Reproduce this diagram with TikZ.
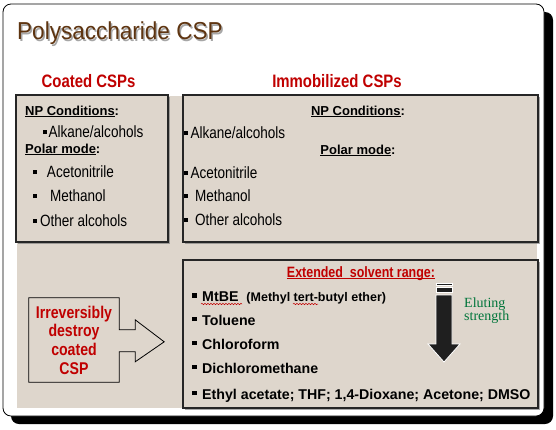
\documentclass[tikz,border=0pt]{standalone}
\usepackage{fontspec}
\setmainfont{Liberation Sans}
\newfontfamily\narrowfont[FakeStretch=0.83]{Liberation Sans}
\newfontfamily\titlefont[FakeStretch=0.92]{Liberation Sans}
\newfontfamily\elutfont{Liberation Serif}
\usetikzlibrary{positioning,shadows,decorations.pathmorphing}
\definecolor{tanbg}{HTML}{DED6CC}
\definecolor{csred}{HTML}{C00000}
\definecolor{titlebrown}{HTML}{5E3410}
\definecolor{elutgreen}{HTML}{00753A}
\newcommand\sqbullet{\raisebox{3pt}{\rule{3.8pt}{3.8pt}}}
\newcommand\xbullet{\raisebox{4pt}{\rule{4.5pt}{4.5pt}}}

\begin{document}
\begin{tikzpicture}[
  x=1pt, y=-1pt,
  panel/.style  = {draw=black!85, fill=tanbg, line width=1.6pt,
                   drop shadow={shadow xshift=1.6pt, shadow yshift=-1.6pt,
                                fill=black!55, opacity=.6}},
  colhead/.style= {anchor=base, inner sep=0, text=csred,
                   font=\narrowfont\bfseries\fontsize{18}{21}\selectfont},
  sect/.style   = {anchor=base west, inner sep=0,
                   font=\bfseries\fontsize{13}{16}\selectfont},
  itm/.style    = {anchor=base west, inner sep=0,
                   font=\narrowfont\fontsize{16.3}{19}\selectfont},
  xitm/.style   = {anchor=base west, inner sep=0,
                   font=\bfseries\fontsize{14.2}{17}\selectfont},
  elut/.style   = {fill=black!88, draw=white, line width=0.8pt},
  squiggle/.style = {csred, line width=0.5pt, decorate,
                   decoration={snake, amplitude=0.7pt, segment length=3pt}},
]
\useasboundingbox (0,0) rectangle (556,429);
% slide frame with its shadow
\fill[black, rounded corners=8pt] (11,12) rectangle (553,424);
\draw[fill=white, line width=0.8pt, rounded corners=8pt] (3,4) rectangle (544,416);
\fill[tanbg] (17,96) rectangle (537,408);

% title
\node[anchor=base west, inner sep=0, text=black!35,
      font=\titlefont\fontsize{24.5}{28}\selectfont] at (18.5,41) {Polysaccharide CSP};
\node[anchor=base west, inner sep=0, text=titlebrown,
      font=\titlefont\fontsize{24.5}{28}\selectfont] (title) at (17,39.5) {Polysaccharide CSP};

% column heads
\node[colhead] (hcoat) at (88.5,87) {Coated CSPs};
\node[colhead] (himmo) at (337,87)  {Immobilized CSPs};

% panels
\node[panel, minimum width=152pt, minimum height=147pt] (coated) at (92,168.5) {};
\node[panel, minimum width=355pt, minimum height=147pt] (immob)  at (360.5,168.5) {};
\node[panel, minimum width=355pt, minimum height=148pt] (ext)    at (360.5,334) {};

% coated CSPs
\node[sect] at (25,115) {\underline{NP Conditions}:};
\node[itm]  at (43,137) {\sqbullet\hspace{1.6pt}Alkane/alcohols};
\node[sect] at (25,153) {\underline{Polar mode}:};
\node[itm]  at (33,177) {\sqbullet\hspace{10pt}Acetonitrile};
\node[itm]  at (33,201) {\sqbullet\hspace{13pt}Methanol};
\node[itm]  at (33,226) {\sqbullet\hspace{3pt}Other alcohols};

% immobilized CSPs
\node[sect, anchor=base] at (358,115) {\underline{NP Conditions}:};
\node[itm]  at (184,138) {\sqbullet\hspace{2.5pt}Alkane/alcohols};
\node[sect, anchor=base] at (358,154) {\underline{Polar mode}:};
\node[itm]  at (184,178) {\sqbullet\hspace{2.5pt}Acetonitrile};
\node[itm]  at (184,201) {\sqbullet\hspace{7pt}Methanol};
\node[itm]  at (184,225) {\sqbullet\hspace{7pt}Other alcohols};

% extended solvent range
\node[sect, anchor=base, text=csred,
      font=\narrowfont\bfseries\fontsize{15}{18}\selectfont]
      (xhead) at (361,277) {\underline{\smash{Extended\ \ solvent range:}}};
\node[xitm] (mtbe) at (192,301.5)
      {\xbullet\hspace{5.5pt}MtBE\hspace{8pt}{\fontsize{12.5}{15}\selectfont(Methyl tert-butyl ether)}};
\node[xitm] at (192,325) {\xbullet\hspace{5.5pt}Toluene};
\node[xitm] at (192,349) {\xbullet\hspace{5.5pt}Chloroform};
\node[xitm] at (192,373) {\xbullet\hspace{5.5pt}Dichloromethane};
\node[xitm] at (192,399) {\xbullet\hspace{5.5pt}Ethyl acetate; THF; 1,4-Dioxane; Acetone; DMSO};
\draw[squiggle] (201,304) -- (242,304);
\draw[squiggle] (293,304) -- (318,304);

% eluting strength arrow
\fill[elut] (436,283) rectangle (452,285.5);
\fill[elut] (436,287.5) rectangle (452,292.5);
\draw[elut] (436,295) -- (452,295) -- (452,344) -- (460,344)
      -- (444,362) -- (428,344) -- (436,344) -- cycle;
\node[anchor=north west, inner sep=0, align=left, text=elutgreen,
      font=\elutfont\fontsize{14}{13.5}\selectfont] (elutlbl) at (464,297.5)
      {Eluting\\strength};

% coated phase destroyed by these solvents
\node[minimum width=90pt, minimum height=84pt, align=center, text=csred,
      font=\narrowfont\bfseries\fontsize{17}{18.7}\selectfont]
      (destroy) at (74,340) {Irreversibly\\destroy\\coated\\CSP};
\draw[line width=0.8pt] (destroy.north east) -- ++(0,32) -- ++(16,0) -- ++(0,-10)
      -- ++(29,22) -- ++(-29,20) -- ++(0,-10) -- ++(-16,0)
      -- (destroy.south east) -- (destroy.south west) -- (destroy.north west) -- cycle;
\end{tikzpicture}
\end{document}
